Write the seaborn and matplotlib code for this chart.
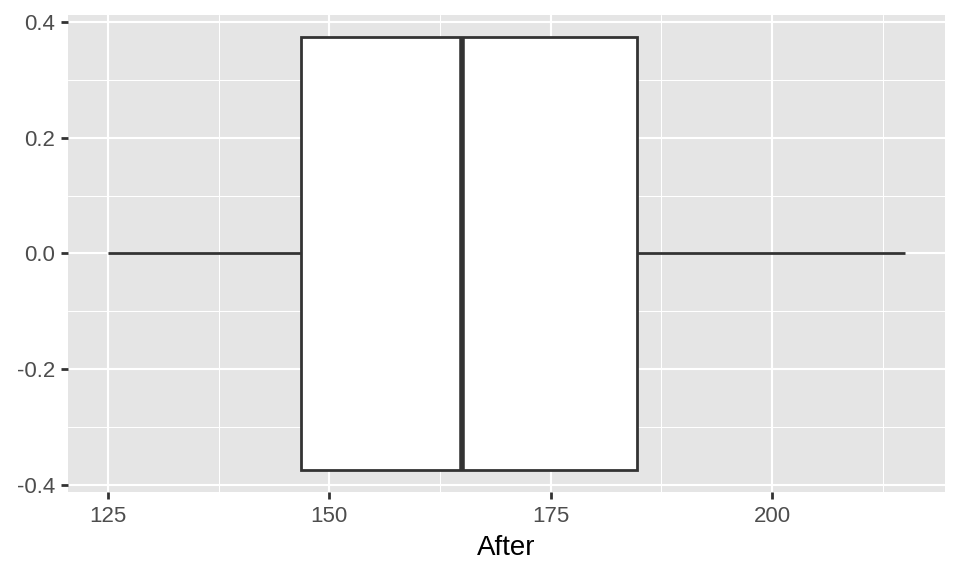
import numpy as np
import pandas as pd
import matplotlib
matplotlib.use("Agg")
import matplotlib.pyplot as plt
import seaborn as sns

# five-number summary
after = [125, 146.8, 165, 184.8, 215]
x_ticks = [125, 150, 175, 200]
x_minor = [137.5, 162.5, 187.5, 212.5]
y_ticks = [-0.4, -0.2, 0.0, 0.2, 0.4]
y_minor = [-0.3, -0.1, 0.1, 0.3]

df = pd.DataFrame({"After": after})

sns.set_style("darkgrid")
plt.rcParams["font.family"] = ["Liberation Sans", "DejaVu Sans"]

fig = plt.figure(figsize=(9.6, 5.76), dpi=100)
ax = fig.add_axes([0.0708, 0.146, 0.9132, 0.828])

sns.boxplot(data=df, x="After", orient="h", width=0.75, color="white",
            linecolor="#333333", linewidth=2.0, showcaps=False, whis=1.5,
            medianprops=dict(linewidth=4.0, color="#333333"),
            boxprops=dict(facecolor="white", edgecolor="#333333"),
            ax=ax)

ax.set_facecolor("#E5E5E5")
ax.set_xlim(120.5, 219.5)
ax.set_ylim(-0.4125, 0.4125)
ax.set_xticks(x_ticks)
ax.set_xticks(x_minor, minor=True)
ax.set_yticks(y_ticks)
ax.set_yticks(y_minor, minor=True)
ax.set_yticklabels(["-0.4", "-0.2", "0.0", "0.2", "0.4"])
ax.grid(which="major", color="white", linewidth=1.5)
ax.grid(which="minor", color="white", linewidth=0.75)
ax.set_axisbelow(True)
for s in ax.spines.values():
    s.set_visible(False)

ax.tick_params(axis="both", which="major", length=5, width=2.0, color="#333333",
               labelsize=16, labelcolor="#4D4D4D", pad=5, left=True, bottom=True)
ax.tick_params(axis="y", which="major", pad=4)
ax.tick_params(axis="both", which="minor", length=0)
ax.set_xlabel("After", fontsize=20, color="black", labelpad=6)
ax.set_ylabel("")

plt.savefig("out.png", dpi=100)
plt.close()
